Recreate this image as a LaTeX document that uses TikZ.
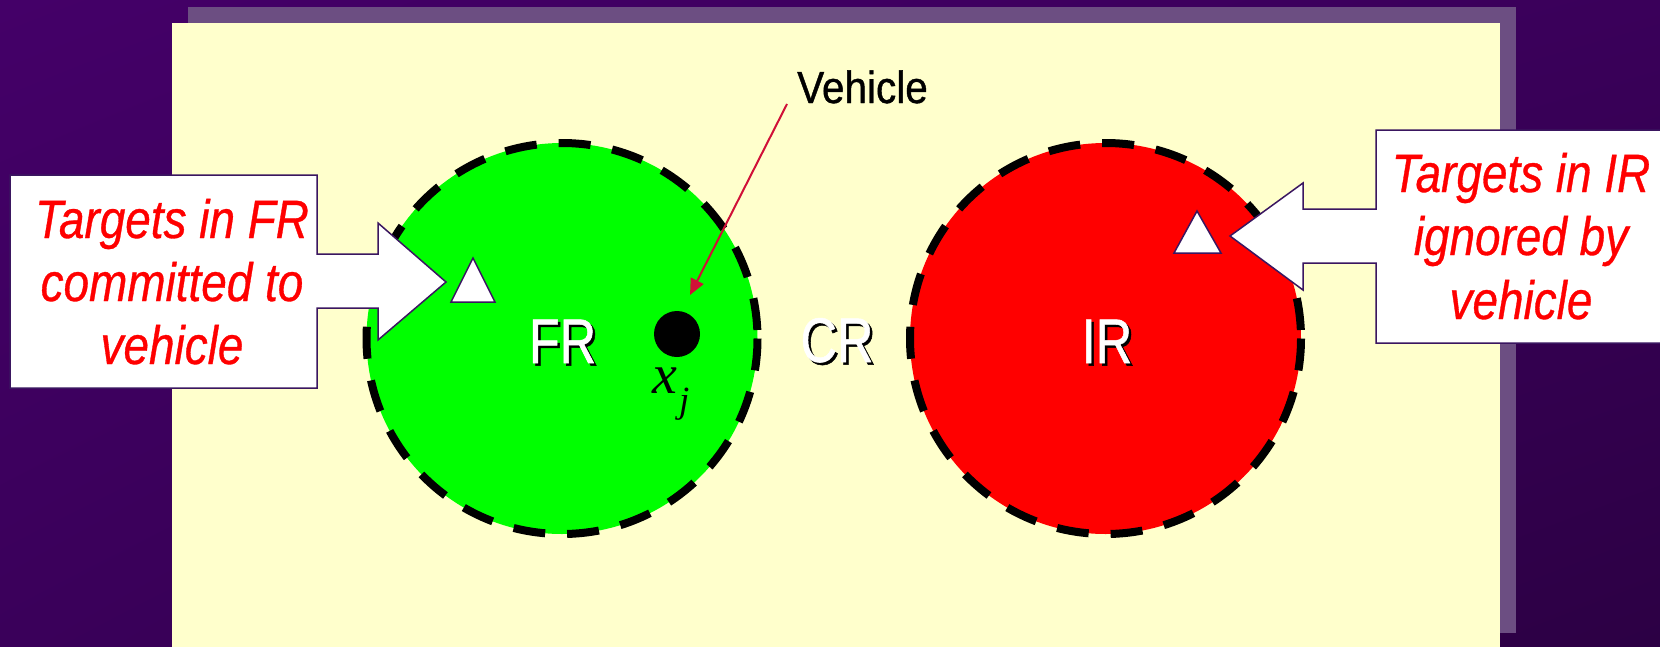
\documentclass[tikz,border=0pt]{standalone}
\usepackage{fontspec}
\setmainfont{Liberation Sans}
\newfontfamily\callfont[FakeStretch=0.85,FakeBold=0.6]{Liberation Sans}
\newfontfamily\regfont[FakeStretch=0.8,FakeBold=0.8]{Liberation Sans}
\newfontfamily\vehfont[FakeStretch=0.9,FakeBold=0.9]{Liberation Sans}
\newfontfamily\tmsfont{Liberation Serif}
\usetikzlibrary{arrows.meta,shadings}
\definecolor{bgA}{RGB}{68,0,104}
\definecolor{bgM}{RGB}{58,0,90}
\definecolor{bgB}{RGB}{44,0,68}
\definecolor{shadowc}{RGB}{108,78,130}
\definecolor{panel}{RGB}{255,255,204}
\definecolor{outline}{RGB}{58,22,96}
\definecolor{vehred}{RGB}{208,16,56}
\begin{document}
\begin{tikzpicture}[x=1pt,y=-1pt,
  calltext/.style={font=\callfont\itshape\fontsize{54}{63}\selectfont, text=red, inner sep=0pt, anchor=base},
  regtext/.style={font=\regfont\fontsize{63}{70}\selectfont, inner sep=0pt, anchor=base},
  callout/.style={fill=white, draw=outline, line width=1.5pt, line join=miter},
  regionline/.style={draw=black, line width=8pt, dash pattern=on 32pt off 22pt},
  target/.style={fill=white, draw=outline, line width=1.5pt, line join=miter}]
\useasboundingbox (0,0) rectangle (1660,646);
% background
\shade[upper left=bgA, upper right=bgM, lower left=bgM, lower right=bgB] (0,0) rectangle (1660,646);
% panel with shadow
\fill[shadowc] (188,7) rectangle (1516,633);
\fill[panel] (172,23) rectangle (1500,650);
% regions
\fill[green] (562,338.5) circle[radius=195.5];
\draw[regionline] (562,338.5) circle[radius=195.5];
\fill[red] (1105.5,338.5) circle[radius=195.5];
\draw[regionline] (1105.5,338.5) circle[radius=195.5];
% region labels
\node[regtext, text=black] (frs) at (565,365.5) {FR};
\node[regtext, text=white] (fr) at (562.5,363) {FR};
\node[regtext, text=black] (crs) at (839.5,364.5) {CR};
\node[regtext, text=white] (cr) at (837,362) {CR};
\node[regtext, text=black] (irs) at (1109.5,365.5) {IR};
\node[regtext, text=white] (ir) at (1107,363) {IR};
% vehicle
\fill[black] (677,334) circle[radius=23];
\node[inner sep=0pt, anchor=base west, font=\tmsfont\itshape\fontsize{56}{60}\selectfont] (xj) at (652,393) {x\kern2pt\raisebox{-19pt}{\fontsize{37}{40}\selectfont j}};
% targets
\draw[target] (473,258) -- (495,302) -- (451,302) -- cycle;
\draw[target] (1197,211) -- (1221,253) -- (1174,253) -- cycle;
% callouts
\draw[callout] (10,175) -- (317,175) -- (317,254) -- (378,254) -- (378,223) -- (446,282) -- (378,340) -- (378,308) -- (317,308) -- (317,388) -- (10,388) -- cycle;
\draw[callout] (1666,130) -- (1376,130) -- (1376,209) -- (1303,209) -- (1303,183) -- (1230,236) -- (1303,290) -- (1303,263) -- (1376,263) -- (1376,343) -- (1666,343);
\node[calltext] (l1) at (172,238) {Targets in FR};
\node[calltext] (l2) at (172,301) {committed to};
\node[calltext] (l3) at (172,364) {vehicle};
\node[calltext] (r1) at (1521,192) {Targets in IR};
\node[calltext] (r2) at (1521,255) {ignored by};
\node[calltext] (r3) at (1521,319) {vehicle};
% vehicle label and pointer
\node[inner sep=0pt, anchor=base west, font=\vehfont\fontsize{45}{50}\selectfont] (veh) at (797,103) {Vehicle};
\coordinate (vstart) at (787,104);
\coordinate (vtip) at (690,295);
\draw[vehred, line width=2pt, -{Triangle[length=16pt,width=14pt]}] (vstart) -- (vtip);
\end{tikzpicture}
\end{document}
